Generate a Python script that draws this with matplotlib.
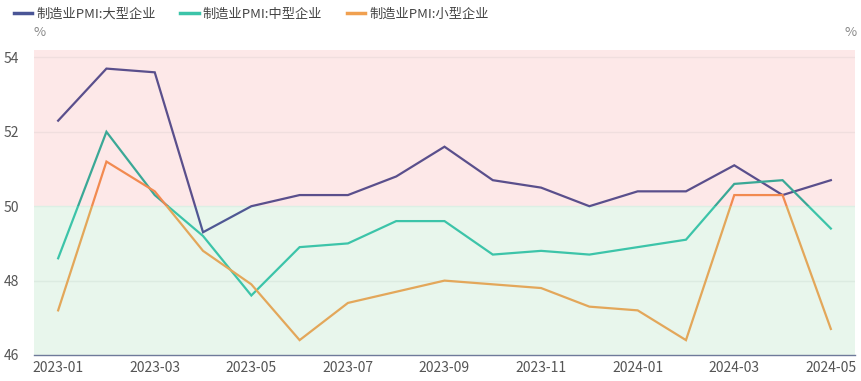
import matplotlib
matplotlib.use("Agg")
import matplotlib.pyplot as plt
from matplotlib.patches import Rectangle
from matplotlib.lines import Line2D

plt.rcParams['font.family'] = ['Noto Sans CJK SC', 'DejaVu Sans']

months = ["2023-01", "2023-02", "2023-03", "2023-04", "2023-05", "2023-06", "2023-07",
          "2023-08", "2023-09", "2023-10", "2023-11", "2023-12", "2024-01", "2024-02",
          "2024-03", "2024-04", "2024-05"]
large = [52.3, 53.7, 53.6, 49.3, 50.0, 50.3, 50.3, 50.8, 51.6, 50.7, 50.5, 50.0, 50.4, 50.4, 51.1, 50.3, 50.7]
medium = [48.6, 52.0, 50.3, 49.2, 47.6, 48.9, 49.0, 49.6, 49.6, 48.7, 48.8, 48.7, 48.9, 49.1, 50.6, 50.7, 49.4]
small = [47.2, 51.2, 50.4, 48.8, 47.9, 46.4, 47.4, 47.7, 48.0, 47.9, 47.8, 47.3, 47.2, 46.4, 50.3, 50.3, 46.7]
names = ["制造业PMI:大型企业", "制造业PMI:中型企业", "制造业PMI:小型企业"]
threshold = 50.0
ymin, ymax = 46, 54.2

# (above color, below color, legend color)
colors = [("#5a4f8c", "#4f5894", "#4a5596"),
          ("#3aa896", "#3cc4a9", "#3cc4a9"),
          ("#f28a50", "#e3a75a", "#f0a050")]

fig = plt.figure(figsize=(8.62, 3.81), dpi=100)
ax = fig.add_axes([34/862, 1 - 355/381, (855-34)/862, (355-50)/381])

x = list(range(len(months)))
ax.set_xlim(-0.5, len(months) - 0.5)
ax.set_ylim(ymin, ymax)

ax.axhspan(threshold, ymax, color="#fde8e8", zorder=0, lw=0)
ax.axhspan(ymin, threshold, color="#e8f6ec", zorder=0, lw=0)

for yv in [48, 52, 54]:
    ax.axhline(yv, color="#f0dede" if yv > 50 else "#dcebe1", lw=1, zorder=1)
ax.axhline(50, color="#dcefe4", lw=1, zorder=1)

for series, (ca, cb, _) in zip([large, medium, small], colors):
    la, = ax.plot(x, series, color=ca, lw=1.6, zorder=3, solid_joinstyle="miter")
    lb, = ax.plot(x, series, color=cb, lw=1.6, zorder=3, solid_joinstyle="miter")
    ra = Rectangle((-1, threshold), 20, 10, transform=ax.transData)
    rb = Rectangle((-1, threshold - 10), 20, 10, transform=ax.transData)
    la.set_clip_path(ra)
    lb.set_clip_path(rb)

for s in ["top", "right", "left"]:
    ax.spines[s].set_visible(False)
ax.spines["bottom"].set_color("#6e7a9a")
ax.spines["bottom"].set_linewidth(1)

ax.set_xticks(x[::2])
ax.set_xticklabels(months[::2])
ax.set_yticks([46, 48, 50, 52, 54])
ax.tick_params(axis="both", length=0, labelsize=10, colors="#555555", pad=4)
ax.tick_params(axis="y", pad=11)

fig.text(40/862, 1 - 33/381, "%", fontsize=9.5, color="#888888", ha="center", va="center")
fig.text(851/862, 1 - 33/381, "%", fontsize=9.5, color="#888888", ha="center", va="center")

handles = [Line2D([0], [0], color=c[2], lw=2.5) for c in colors]
fig.legend(handles, names, loc="upper left", bbox_to_anchor=(14/862, 1 - 8/381), ncol=3,
           frameon=False, fontsize=9.5, handlelength=1.4, handletextpad=0.3,
           columnspacing=1.85, labelcolor="#444444", borderpad=0, borderaxespad=0)

fig.savefig("out.png", dpi=100)
